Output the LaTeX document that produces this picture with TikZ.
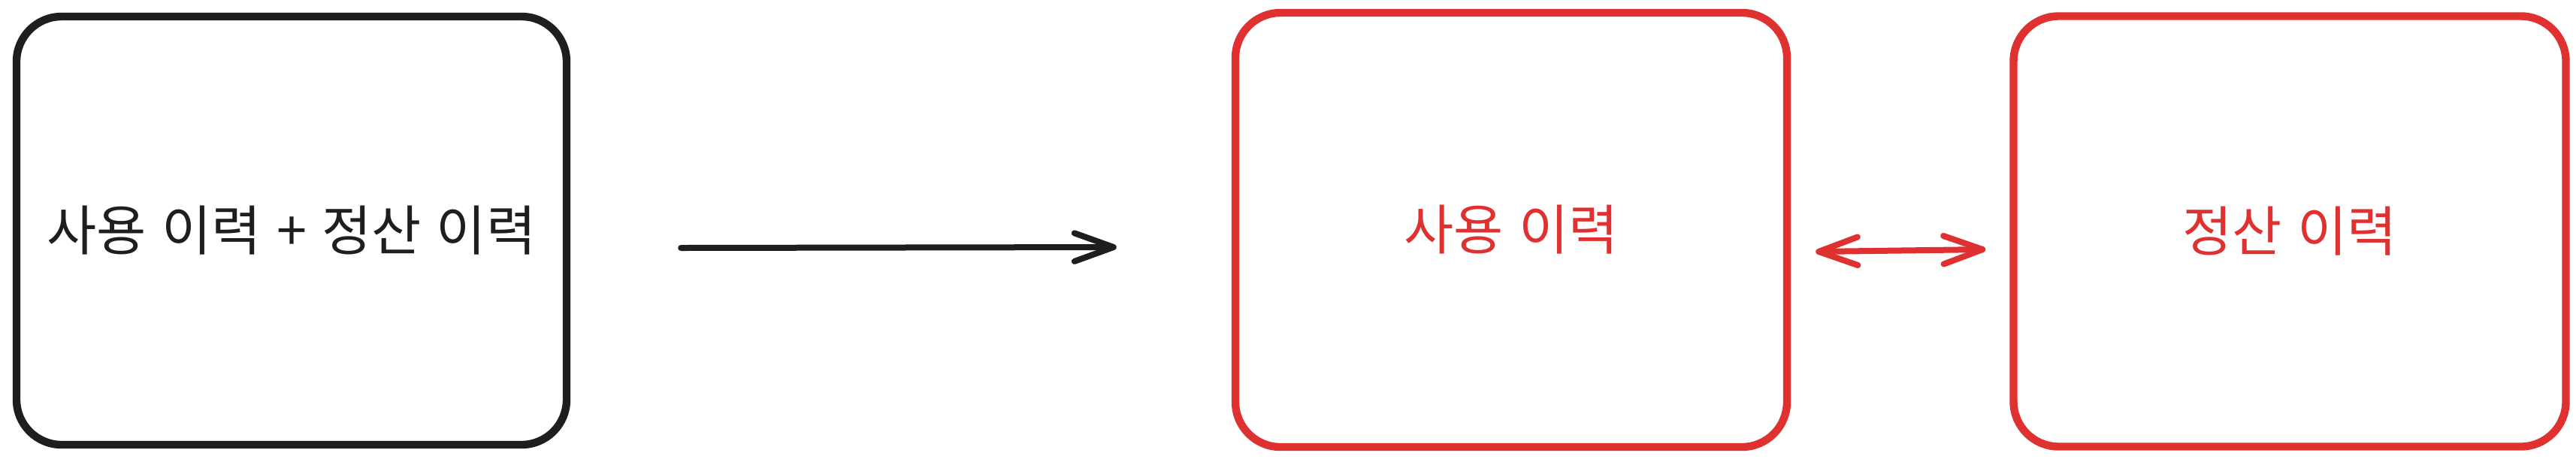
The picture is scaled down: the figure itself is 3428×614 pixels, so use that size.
\documentclass[tikz,border=0pt]{standalone}
\usepackage{fontspec}
\XeTeXinputnormalization=1
\newfontfamily\kr[Script=Hangul,Language=Korean]{Noto Sans CJK KR}
\usetikzlibrary{arrows.meta,calc}
\definecolor{ink}{HTML}{1E1E1E}
\definecolor{exred}{HTML}{E03131}
\tikzset{
  box/.style={draw, line width=2.6pt, rounded corners=15pt, fill=white,
    font=\kr\fontsize{18pt}{22pt}\selectfont, inner sep=0pt},
  conn/.style={line width=2pt, line cap=round,
    arrows={-Straight Barb[length=13pt,width=9.4pt,round]}},
  biconn/.style={line width=2pt, line cap=round,
    arrows={Straight Barb[length=13pt,width=9.4pt,round]-Straight Barb[length=13pt,width=9.4pt,round]}}
}
\begin{document}
\begin{tikzpicture}[x=0.25pt,y=-0.25pt]
\useasboundingbox[fill=white] (0,0) rectangle (3428,614);
\node[box, draw=ink, text=ink, minimum width=183pt, minimum height=142.5pt] (all) at (388,307) {사용 이력 + 정산 이력};
\node[box, draw=exred, text=exred, minimum width=183.5pt, minimum height=144.5pt] (use) at (2011,306) {사용 이력};
\node[box, draw=exred, text=exred, minimum width=183.75pt, minimum height=143.25pt] (pay) at (3047,308) {정산 이력};
\draw[conn, draw=ink] ($(all.east)+(147,23)$) coordinate (a1) -- ($(use.west)+(-153,23)$) coordinate (a2);
\draw[biconn, draw=exred] ($(use.east)+(33,29)$) coordinate (b1) -- ($(pay.west)+(-32,24)$) coordinate (b2);
\end{tikzpicture}
\end{document}
